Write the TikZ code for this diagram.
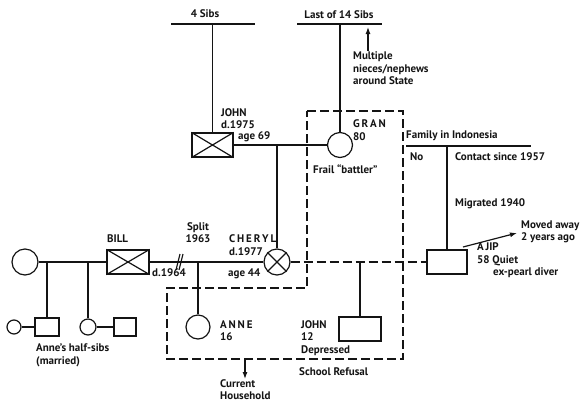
\documentclass[tikz,border=0pt]{standalone}
\usepackage{fontspec}
\setmainfont{PT Sans}
\usepackage{tikz}
\usetikzlibrary{arrows.meta,calc,positioning}
\definecolor{gnInk}{RGB}{20,20,20}
\newcommand{\crossbox}[1]{%
  \draw[gnline] (#1.north west)--(#1.south east) (#1.south west)--(#1.north east);
}
\newcommand{\crosscircle}[1]{%
  \draw[gnline] (#1.45)--(#1.225) (#1.135)--(#1.315);
}
\tikzset{
  gnline/.style={draw=gnInk,line width=1.2pt},
  gndash/.style={gnline,dash pattern=on 9pt off 4pt},
  male/.style={gnline,rectangle,inner sep=0pt,minimum width=#1,minimum height=24pt},
  male/.default=41pt,
  female/.style={gnline,circle,inner sep=0pt,minimum size=#1},
  female/.default=25pt,
  lbl/.style={anchor=west,inner sep=0pt,align=left,text=gnInk,
    font=\fontsize{11}{12.6}\selectfont\bfseries},
  gnarrow/.style={gnline,-{Latex[length=7pt,width=5pt]}}
}

\begin{document}
\begin{tikzpicture}[x=1pt,y=-1pt]
  \useasboundingbox (0,0) rectangle (583,405);
  % grandparents
  \coordinate (sibsA-l) at (171,24);
  \coordinate (sibsA-r) at (255,24);
  \coordinate (sibsB-l) at (297,24);
  \coordinate (sibsB-r) at (382,24);
  \node[male] (john) at (212.5,145) {};
  \node[female] (gran) at (340,145) {};
  \crossbox{john}
  \draw[gnline] (sibsA-l) -- (sibsA-r);
  \draw[gnline] (sibsB-l) -- (sibsB-r);
  \draw[gnline] (john.north |- sibsA-l) -- (john.north);
  \draw[gnline] (gran.north |- sibsB-l) -- (gran.north);
  \draw[gnline] (john.east) -- (gran.west);
  \node[lbl,anchor=center] (lbl-sibsA) at (205,14) {4 Sibs};
  \node[lbl,anchor=center] (lbl-sibsB) at (339,15) {Last of 14 Sibs};
  \coordinate (niece-a) at (368,51);
  \coordinate (niece-b) at (368,27);
  \draw[gnarrow] (niece-a) -- (niece-b);
  \node[lbl] (lbl-niece) at (353,68.5) {Multiple\\nieces/nephews\\around State};
  \node[lbl] (lbl-john) at (221,118.5) {JOHN\\d.1975};
  \node[lbl] (lbl-johnage) at (238,137) {age 69};
  \node[lbl] (lbl-gran) at (353,130) {G\,R\,A\,N\\80};
  \node[lbl] (lbl-frail) at (313,169) {Frail “battler”};

  % parents
  \node[female=26pt] (wife) at (25,262) {};
  \node[male=42pt] (bill) at (128,262) {};
  \node[female=26pt] (cheryl) at (277,262) {};
  \node[male=40pt] (ajip) at (447,262) {};
  \crossbox{bill}
  \crosscircle{cheryl}
  \coordinate (gp-mid) at (277,145);
  \draw[gnline] (gp-mid) -- (cheryl.north);
  \draw[gnline] (wife.east) -- (bill.west);
  \draw[gnline] (bill.east) -- (cheryl.west);
  \draw[gnline] (176,270) -- (180,254) (179,270) -- (183,254);
  \draw[gndash] (cheryl.east) -- (ajip.west);
  \node[lbl] (lbl-bill) at (107,239) {BILL};
  \node[lbl] (lbl-billd) at (152,273) {d.1964};
  \node[lbl,align=center,anchor=center] (lbl-split) at (198,232.5) {Split\\1963};
  \node[lbl] (lbl-cheryl) at (229,245) {C\,H\,E\,R\,Y\,L\\d.1977};
  \node[lbl] (lbl-cherylage) at (228,274) {age 44};

  % Indonesia side
  \coordinate (indo-l) at (406,146);
  \coordinate (indo-r) at (531,146);
  \draw[gnline] (indo-l) -- (indo-r);
  \draw[gnline] (ajip.north |- indo-l) -- (ajip.north);
  \node[lbl] (lbl-indo) at (406,136) {Family in Indonesia};
  \node[lbl] (lbl-no) at (410,157) {No};
  \node[lbl] (lbl-contact) at (455,157) {Contact since 1957};
  \node[lbl] (lbl-migr) at (455,204) {Migrated 1940};
  \coordinate (moved-a) at (463,247);
  \coordinate (moved-b) at (517,233);
  \draw[gnarrow] (moved-a) -- (moved-b);
  \node[lbl] (lbl-moved) at (521,232) {Moved away\\2 years ago};
  \node[lbl] (lbl-ajip) at (477,260.5) {A\,JIP\\58 Quiet\\\hspace{16pt}ex-pearl diver};

  % children
  \node[male=24pt,minimum height=18pt] (sib1) at (47,327) {};
  \node[female=14pt] (sib1sp) at (14,327) {};
  \node[female=16pt] (sib2) at (88,327) {};
  \node[male=22pt,minimum height=18pt] (sib2sp) at (125,327) {};
  \node[female=24pt] (anne) at (198,327) {};
  \node[male=42pt] (johnjr) at (360,329) {};
  \draw[gnline] (sib1.north |- wife) -- (sib1.north);
  \draw[gnline] (sib2.north |- wife) -- (sib2.north);
  \draw[gnline] (sib1sp.east) -- (sib1.west);
  \draw[gnline] (sib2.east) -- (sib2sp.west);
  \draw[gnline] (anne.north |- bill) -- (anne.north);
  \draw[gnline] (johnjr.north |- ajip) -- (johnjr.north);
  \node[lbl] (lbl-half) at (36,355) {Anne’s half-sibs\\(married)};
  \node[lbl] (lbl-anne) at (220,330.5) {A\,N\,N\,E\\16};
  \node[lbl] (lbl-johnjr) at (301,338) {JOHN\\12\\Depressed};
  \node[lbl] (lbl-school) at (299,372) {School Refusal};

  % household
  \draw[gndash] (307,111) -- (403,111) -- (403,359) -- (167,359)
    -- (167,288) -- (307,288) -- cycle;
  \coordinate (house-a) at (245,359);
  \coordinate (house-b) at (245,379);
  \draw[gnarrow] (house-a) -- (house-b);
  \node[lbl,font=\fontsize{11}{11.5}\selectfont\bfseries] (lbl-house) at (220,389.5) {Current\\Household};
\end{tikzpicture}
\end{document}
